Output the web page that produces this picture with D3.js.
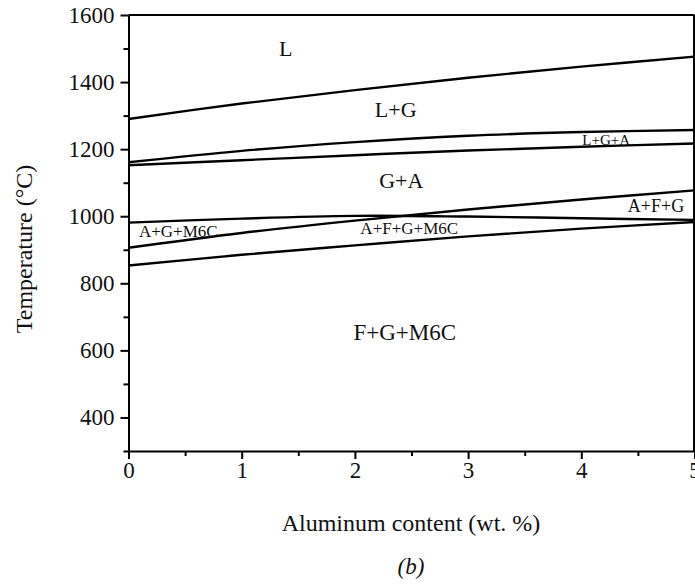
<!DOCTYPE html>
<html>
<head>
<meta charset="utf-8">
<script src="https://cdn.jsdelivr.net/npm/d3@7"></script>
<style>
  html, body { margin: 0; padding: 0; background: #fff; }
  svg { display: block; }
  text { font-family: "Liberation Serif", "Times New Roman", serif; fill: #111; }
</style>
</head>
<body>
<svg id="chart" width="695" height="584"></svg>
<script>
// Aluminum content (wt. %) sampled along each phase boundary
const alContent = [0, 1, 2, 3, 4, 5];

// Phase boundary temperatures (°C)
const liquidus       = [1290, 1336, 1376, 1413, 1446, 1476];
const lgUpper        = [1161, 1195, 1221, 1240, 1251, 1257];
const lgaLower       = [1152, 1167, 1182, 1196, 1207, 1217];
const m6cSolvus      = [981, 993, 1001, 999, 994, 989];
const ferriteStart   = [906, 950, 987, 1020, 1050, 1077];
const austeniteEnd   = [853, 885, 913, 940, 963, 983];

const boundaries = [liquidus, lgUpper, lgaLower, m6cSolvus, ferriteStart, austeniteEnd];

// Phase field labels: text, Al wt.%, temperature, font size
const phaseNames = ["L", "L+G", "L+G+A", "G+A", "A+F+G", "A+G+M6C", "A+F+G+M6C", "F+G+M6C"];
const phaseAl    = [1.39, 2.36, 4.22, 2.41, 4.66, 0.44, 2.48, 2.44];
const phaseT     = [1499, 1317, 1227, 1106, 1030, 954, 962, 652];
const phaseSize  = [22, 22, 15, 22, 18, 17, 17, 23];

const xMajor = [0, 1, 2, 3, 4, 5];
const xMinor = [0.5, 1.5, 2.5, 3.5, 4.5];
const yMajor = [400, 600, 800, 1000, 1200, 1400, 1600];
const yMinor = [300, 500, 700, 900, 1100, 1300, 1500];

const svg = d3.select("#chart");
const plotLeft = 128.5, plotRight = 694.5, plotTop = 15, plotBottom = 451;

const x = d3.scaleLinear().domain([0, 5]).range([plotLeft, plotRight]);
const y = d3.scaleLinear().domain([300, 1600]).range([plotBottom, plotTop]);

svg.append("defs").append("clipPath").attr("id", "plotClip")
  .append("rect").attr("x", plotLeft).attr("y", plotTop)
  .attr("width", plotRight - plotLeft).attr("height", plotBottom - plotTop);

// Phase boundaries
const line = d3.line()
  .x((d, i) => x(alContent[i]))
  .y(d => y(d))
  .curve(d3.curveCatmullRom.alpha(0.5));

svg.append("g").attr("clip-path", "url(#plotClip)")
  .selectAll("path").data(boundaries).join("path")
  .attr("d", line)
  .attr("fill", "none")
  .attr("stroke", "#000")
  .attr("stroke-width", 2.4);

// Phase field labels
svg.append("g").selectAll("text").data(phaseNames).join("text")
  .attr("x", (d, i) => x(phaseAl[i]))
  .attr("y", (d, i) => y(phaseT[i]))
  .attr("text-anchor", "middle")
  .attr("dominant-baseline", "central")
  .style("font-size", (d, i) => phaseSize[i] + "px")
  .text(d => d);

// Frame (top and right edges)
svg.append("line").attr("x1", plotLeft).attr("x2", plotRight).attr("y1", plotTop).attr("y2", plotTop)
  .attr("stroke", "#000").attr("stroke-width", 2);
svg.append("line").attr("x1", plotRight - 0.5).attr("x2", plotRight - 0.5).attr("y1", plotTop).attr("y2", plotBottom)
  .attr("stroke", "#000").attr("stroke-width", 2);

function styleAxis(g) {
  g.select(".domain").attr("stroke", "#000").attr("stroke-width", 2);
  g.selectAll(".tick line").attr("stroke", "#000").attr("stroke-width", 2);
  g.selectAll(".tick text").style("font-size", "23px").attr("fill", "#111")
    .style("font-family", '"Liberation Serif", "Times New Roman", serif');
}

// X axis
svg.append("g").attr("transform", `translate(0,${plotBottom})`)
  .call(d3.axisBottom(x).tickValues(xMinor).tickSize(5).tickFormat(""))
  .call(g => g.select(".domain").remove())
  .call(g => g.selectAll(".tick line").attr("stroke", "#000").attr("stroke-width", 2));
svg.append("g").attr("transform", `translate(0,${plotBottom})`)
  .call(d3.axisBottom(x).tickValues(xMajor).tickSize(8).tickSizeOuter(0).tickPadding(3).tickFormat(d3.format("d")))
  .call(styleAxis);

// Y axis
svg.append("g").attr("transform", `translate(${plotLeft},0)`)
  .call(d3.axisLeft(y).tickValues(yMinor).tickSize(5).tickFormat(""))
  .call(g => g.select(".domain").remove())
  .call(g => g.selectAll(".tick line").attr("stroke", "#000").attr("stroke-width", 2));
svg.append("g").attr("transform", `translate(${plotLeft},0)`)
  .call(d3.axisLeft(y).tickValues(yMajor).tickSize(8).tickSizeOuter(0).tickPadding(6).tickFormat(d3.format("d")))
  .call(styleAxis);

// Axis titles
svg.append("text")
  .attr("x", 411).attr("y", 523)
  .attr("text-anchor", "middle").attr("dominant-baseline", "central")
  .style("font-size", "24px")
  .text("Aluminum content (wt. %)");

svg.append("text")
  .attr("transform", `translate(24,${(163 + 335) / 2}) rotate(-90)`)
  .attr("text-anchor", "middle").attr("dominant-baseline", "central")
  .style("font-size", "24px")
  .text("Temperature (°C)");

// Panel tag
svg.append("text")
  .attr("x", 411).attr("y", 566)
  .attr("text-anchor", "middle").attr("dominant-baseline", "central")
  .style("font-size", "23px").style("font-style", "italic")
  .text("(b)");
</script>
</body>
</html>
